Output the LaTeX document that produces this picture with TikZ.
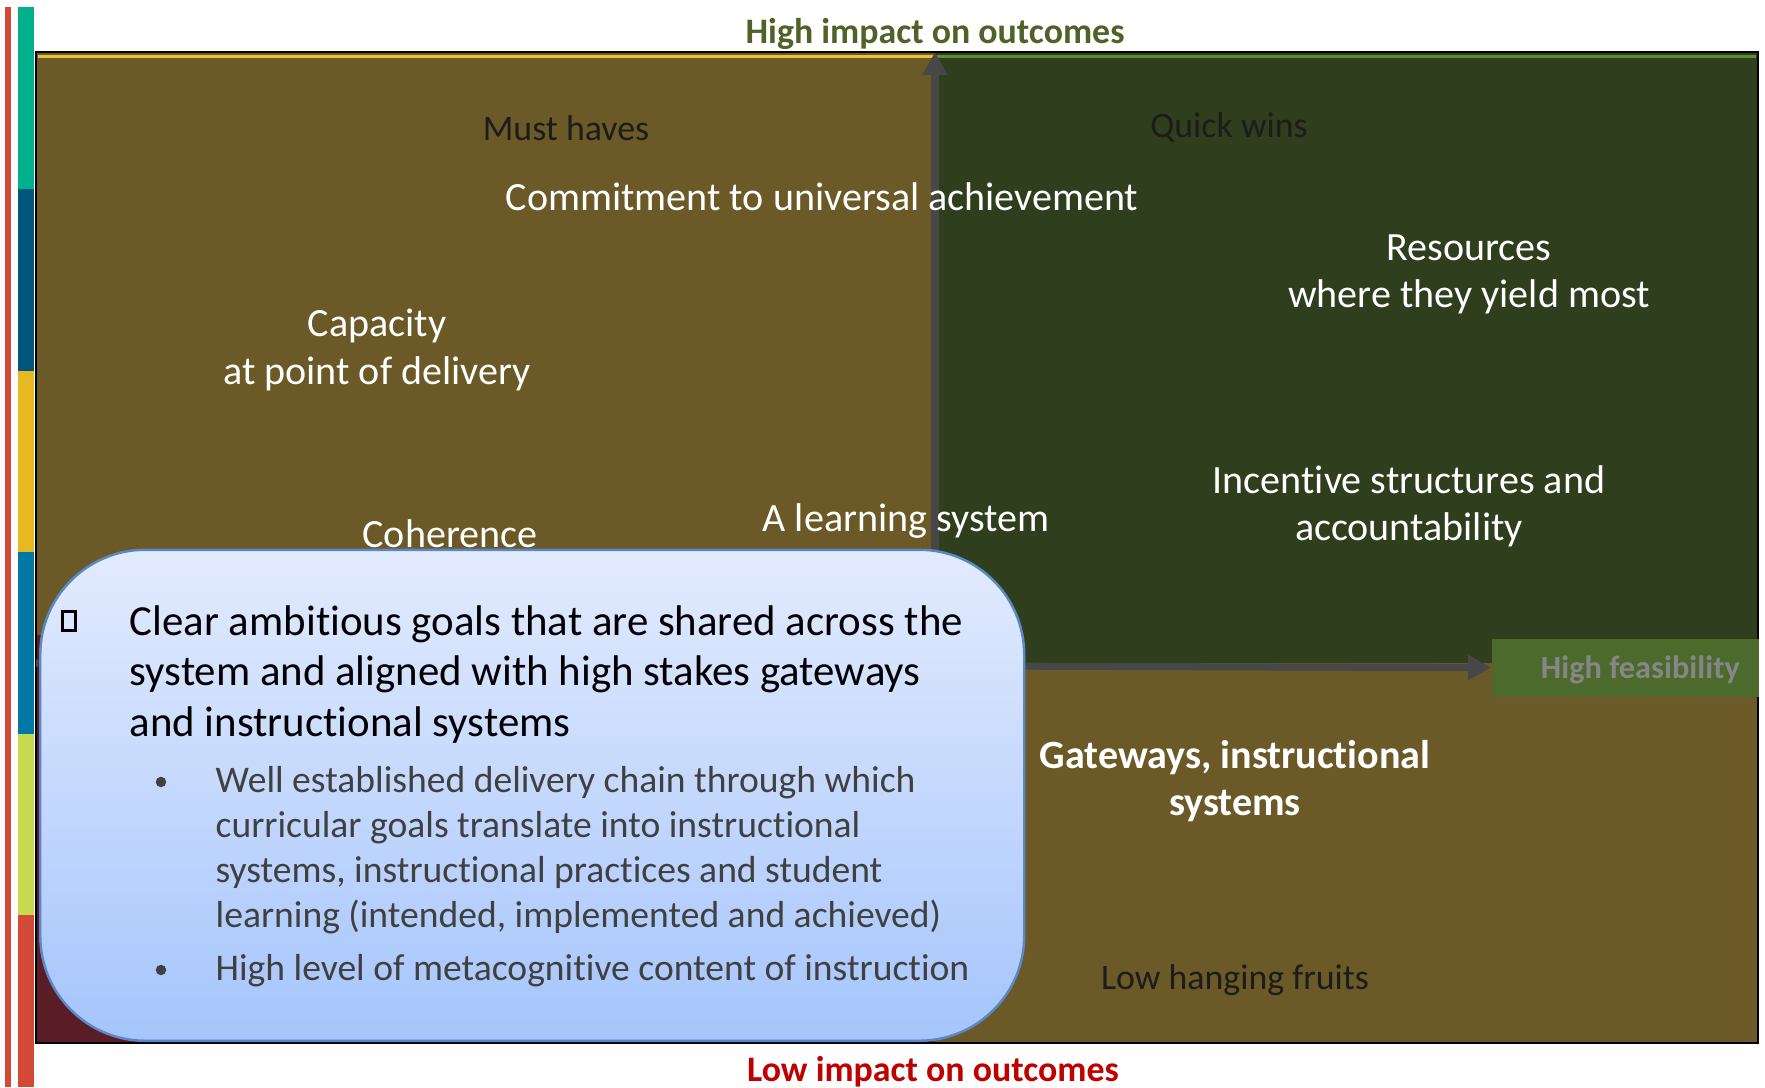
\documentclass[tikz,border=0pt]{standalone}
\usepackage{fontspec}
\setmainfont{Carlito}[Ligatures=NoCommon]
\usetikzlibrary{arrows.meta, positioning}
\usepackage{xcolor}

\definecolor{barred}{HTML}{D24A36}
\definecolor{barteal}{HTML}{00B08A}
\definecolor{barblue}{HTML}{00557F}
\definecolor{baryellow}{HTML}{E6B822}
\definecolor{barsea}{HTML}{0078A6}
\definecolor{barlime}{HTML}{C6DA50}
\definecolor{olivefill}{HTML}{6B5A27}
\definecolor{greenfill}{HTML}{2F3E1D}
\definecolor{wine}{HTML}{5A1C26}
\definecolor{axisgrey}{HTML}{474747}
\definecolor{topyellow}{HTML}{E8C43A}
\definecolor{topgreen}{HTML}{5E8E32}
\definecolor{highgreen}{HTML}{4F6228}
\definecolor{lowred}{HTML}{C00000}
\definecolor{darktext}{HTML}{1C1C1C}
\definecolor{feasgreen}{HTML}{4B6A2C}
\definecolor{feasgrey}{HTML}{868686}
\definecolor{boxtop}{HTML}{E3EBFE}
\definecolor{boxbottom}{HTML}{A5C5FC}
\definecolor{boxline}{HTML}{5B88C4}
\definecolor{subgrey}{HTML}{404040}

\begin{document}
\begin{tikzpicture}[x=0.1mm, y=-0.1mm,
    quad/.style = {font=\fontsize{11.4}{13.5}\selectfont, text=white, align=center, inner sep=0pt},
    dark/.style = {quad, font=\fontsize{10.2}{12}\selectfont, text=darktext},
    title/.style = {font=\fontsize{10.2}{12}\selectfont\bfseries, inner sep=0pt},
    axis/.style = {draw=axisgrey, line width=2pt, -{Triangle[width=2.4mm,length=2.3mm]}},
    goalbox/.style = {draw=boxline, line width=0.7pt, rounded corners=10.5mm, top color=boxtop, bottom color=boxbottom, inner sep=0pt},
    goaltext/.style = {font=\fontsize{12.2}{14.4}\selectfont, align=left, inner sep=0pt},
    subtext/.style = {font=\fontsize{10.7}{12.8}\selectfont, text=subgrey, align=left, inner sep=0pt},
    dot/.style = {circle, fill=subgrey, inner sep=0pt, minimum size=1.05mm}]
\useasboundingbox (0,0) rectangle (1765,1088);

% side bars
\fill[barred] (5,7) rectangle (11,1087);
\fill[barteal] (18,7) rectangle (34,189);
\fill[barblue] (18,189) rectangle (34,371);
\fill[baryellow] (18,371) rectangle (34,552);
\fill[barsea] (18,552) rectangle (34,734);
\fill[barlime] (18,734) rectangle (34,915);
\fill[barred] (18,915) rectangle (34,1087);

% quadrants
\fill[olivefill] (36,52) rectangle (935,663);
\fill[wine] (36,635) rectangle (935,1043);
\fill[greenfill] (935,52) rectangle (1758,663);
\fill[olivefill] (935,663) rectangle (1758,1043);
\draw[topyellow, line width=0.3mm] (38,57) -- (935,57);
\draw[topgreen, line width=0.3mm] (935,57) -- (1756,57);
\draw[black, line width=0.7pt] (36,52) rectangle (1758,1043);

% axes
\coordinate (origin) at (935,663);
\coordinate (top) at (935,52);
\coordinate (left) at (36,663);
\node[fill=feasgreen, minimum width=26.7mm, minimum height=5.8mm, inner sep=0pt, anchor=north west] (feas) at (1491,638) {};
\node[font=\fontsize{9.2}{11}\selectfont\bfseries, text=feasgrey, inner sep=0pt, anchor=east] (feaslabel) at ([xshift=-1.9mm, yshift=-0.2mm]feas.east) {High feasibility};
\draw[axis] (origin) -- (top);
\draw[axis] (left) -- (feas.west);

% titles
\node[title, text=highgreen] (high) at (935,33.5) {High impact on outcomes};
\node[title, text=lowred] (low) at (933,1071.5) {Low impact on outcomes};

% quadrant labels
\node[dark] (musthaves) at (566,128) {Must haves};
\node[dark] (quickwins) at (1229,127) {Quick wins};
\node[quad] (commit) at (822,197) {Commitment to universal achievement};
\node[quad] (resources) at (1469,274.5) {Resources\\where they yield most};
\node[quad] (capacity) at (377,350) {Capacity\\at point of delivery};
\node[quad] (incentive) at (1409,506.5) {Incentive structures and\\accountability};
\node[quad] (coherence) at (450,534) {Coherence};
\node[quad] (learning) at (906,521) {A learning system};
\node[quad, font=\fontsize{11.4}{13.5}\selectfont\bfseries] (gateways) at (1235,781) {Gateways, instructional\\systems};
\node[dark] (fruits) at (1235,980) {Low hanging fruits};

% goals box
\node[goalbox, minimum width=98.4mm, minimum height=49.1mm, anchor=south west] (goals) at (39,1042) {};
\node[draw, line width=0.7pt, minimum width=1.3mm, minimum height=1.9mm, inner sep=0pt] (sq) at (69,621) {};
\node[goaltext, anchor=west] (goalmain) at (129,674.5) {Clear ambitious goals that are shared across the\\system and aligned with high stakes gateways\\and instructional systems};
\node[dot] (dot1) at (161,782) {};
\node[subtext, anchor=west] (chain) at (215,850.5) {Well established delivery chain through which\\curricular goals translate into instructional\\systems, instructional practices and student\\learning (intended, implemented and achieved)};
\node[dot] (dot2) at (161,970) {};
\node[subtext, anchor=west] (meta) at (215,970.5) {High level of metacognitive content of instruction};
\end{tikzpicture}
\end{document}
